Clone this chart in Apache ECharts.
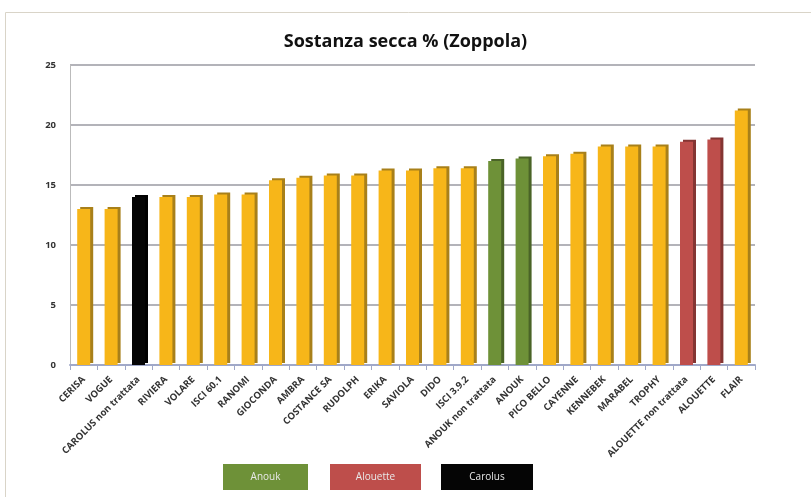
<!DOCTYPE html>
<html>
<head>
<meta charset="utf-8">
<script src="https://cdn.jsdelivr.net/npm/echarts@6/dist/echarts.min.js"></script>
<style>
html,body{margin:0;padding:0;background:#fff;}
#chart{width:811px;height:497px;}
</style>
</head>
<body>
<div id="chart"></div>
<script>
var categories = ['CERISA','VOGUE','CAROLUS non trattata','RIVIERA','VOLARE','ISCI 60.1','RANOMI','GIOCONDA','AMBRA','COSTANCE SA','RUDOLPH','ERIKA','SAVIOLA','DIDO','ISCI 3.9.2','ANOUK non trattata','ANOUK','PICO BELLO','CAYENNE','KENNEBEK','MARABEL','TROPHY','ALOUETTE non trattata','ALOUETTE','FLAIR'];
var values = [13.0,13.0,14.0,14.0,14.0,14.2,14.2,15.4,15.6,15.8,15.8,16.2,16.2,16.4,16.4,17.0,17.2,17.4,17.6,18.2,18.2,18.2,18.6,18.8,21.2];
var groups = ['o','o','c','o','o','o','o','o','o','o','o','o','o','o','o','a','a','o','o','o','o','o','l','l','o'];
var legendLabels = ['Anouk','Alouette','Carolus'];
var yTicks = [0,5,10,15,20,25];

var palette = {o:'#F7B619', a:'#6E9138', l:'#BE4E4B', c:'#050505'};
var sidePalette = {o:'#A8801A', a:'#4A6427', l:'#843533', c:'#000000'};

var chart = echarts.init(document.getElementById('chart'));
var data = values.map(function(v,i){
  return {value:v, itemStyle:{color:palette[groups[i]], shadowColor:sidePalette[groups[i]], shadowOffsetX:3, shadowOffsetY:-2, shadowBlur:0}};
});
var legendColors = [palette.a, palette.l, palette.c];
var boxX = [223, 330, 441];
var boxW = [85, 91, 92];
var graphics = [{
  type:'rect', shape:{x:5.5,y:12.5,width:810,height:490}, style:{fill:'none', stroke:'#D9D4C8', lineWidth:1}, silent:true
}];
legendLabels.forEach(function(t,i){
  graphics.push({type:'rect', shape:{x:boxX[i], y:464, width:boxW[i], height:26}, style:{fill:legendColors[i]}});
  graphics.push({type:'text', x:boxX[i]+boxW[i]/2, y:477, style:{text:t, fill:'#E8E8E8', font:'10px "Open Sans"', align:'center', verticalAlign:'middle'}});
});

chart.setOption({
  animation:false,
  backgroundColor:'#fff',
  title:{text:'Sostanza secca % (Zoppola)', left:'center', top:28, textStyle:{fontFamily:'Open Sans', fontWeight:'bold', fontSize:18, color:'#111'}},
  grid:{left:70, right:56, top:65, bottom:132},
  xAxis:{type:'category', data:categories,
    axisLine:{show:true, lineStyle:{color:'#A0A8C8', width:2}},
    axisTick:{show:true, alignWithLabel:false, lineStyle:{color:'#A0A8C8'}},
    axisLabel:{interval:0, rotate:45, fontSize:9.5, fontWeight:'bold', color:'#333', fontFamily:'Open Sans', margin:13}
  },
  yAxis:{type:'value', min:0, max:25, interval:5,
    axisLine:{show:true, lineStyle:{color:'#BBBBBB', width:1}},
    axisTick:{show:false},
    axisLabel:{fontSize:9.5, fontWeight:'bold', color:'#333', fontFamily:'Open Sans', margin:14,
      formatter:function(v){return yTicks.indexOf(v)>=0? String(v):'';}},
    splitLine:{show:true, lineStyle:{color:'#9A9AA2', width:1.5}}
  },
  series:[{type:'bar', data:data, barWidth:13}],
  graphic:graphics
});
</script>
</body>
</html>
